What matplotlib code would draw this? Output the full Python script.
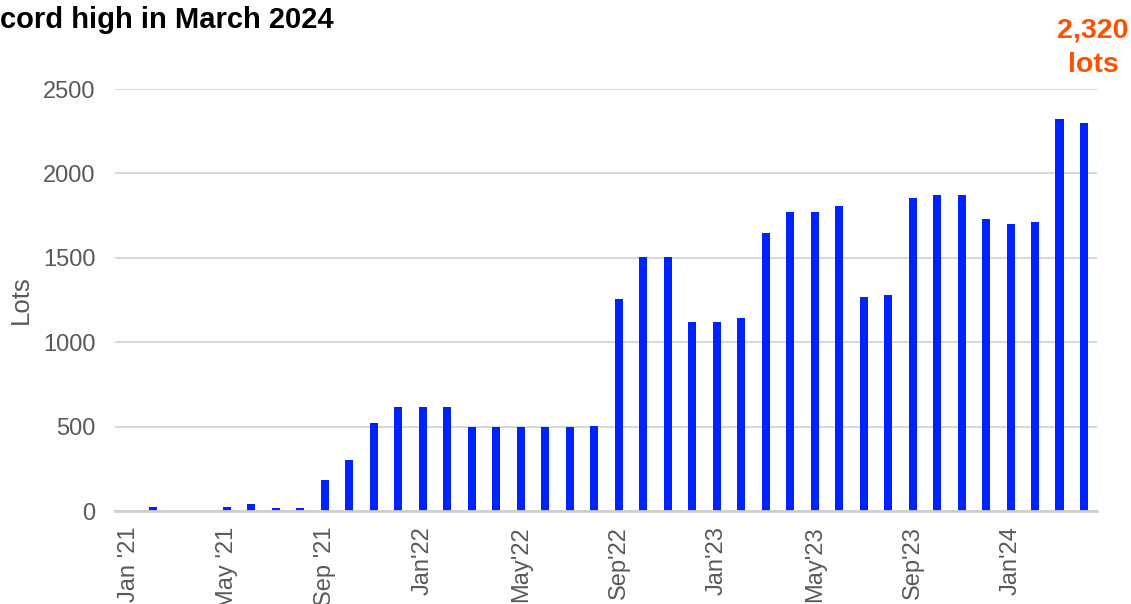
import matplotlib
matplotlib.use("Agg")
from matplotlib import pyplot as plt

plt.rcParams['font.family'] = ['Liberation Sans', 'DejaVu Sans']

# monthly lots, Jan '21 .. Apr '24
months = ["Jan '21", "Feb '21", "Mar '21", "Apr '21", "May '21", "Jun '21", "Jul '21", "Aug '21",
          "Sep '21", "Oct '21", "Nov '21", "Dec '21",
          "Jan'22", "Feb'22", "Mar'22", "Apr'22", "May'22", "Jun'22", "Jul'22", "Aug'22",
          "Sep'22", "Oct'22", "Nov'22", "Dec'22",
          "Jan'23", "Feb'23", "Mar'23", "Apr'23", "May'23", "Jun'23", "Jul'23", "Aug'23",
          "Sep'23", "Oct'23", "Nov'23", "Dec'23",
          "Jan'24", "Feb'24", "Mar'24", "Apr'24"]
lots = [0, 25, 0, 0, 22, 40, 20, 20,
        185, 305, 520, 615,
        615, 615, 500, 500, 500, 500, 500, 505,
        1255, 1505, 1505, 1120,
        1120, 1145, 1645, 1770, 1770, 1805, 1265, 1280,
        1855, 1875, 1872, 1732,
        1702, 1715, 2320, 2298]
peak = 2320

blue = '#0022FF'
grey = '#595959'

fig = plt.figure(figsize=(11.31, 6.04), dpi=100)
ax = fig.add_axes([115 / 1131, 1 - 511 / 604, (1097 - 115) / 1131, (511 - 89) / 604])

xs = list(range(len(months)))
ax.bar(xs, lots, width=0.33, color=blue, zorder=3)

ax.set_xlim(-0.57, 39.53)
ax.set_ylim(0, 2500)
ax.set_yticks([0, 500, 1000, 1500, 2000, 2500])
ax.yaxis.grid(True, color='#d9d9d9', linewidth=1.5, zorder=0)
ax.axhline(0, color='#cfcfcf', linewidth=2, zorder=4, clip_on=False)

# label every 4th month
ax.set_xticks(xs[::4])
ax.set_xticklabels(months[::4], rotation=90, va='top', ha='center')
ax.tick_params(axis='both', length=0, labelsize=17, labelcolor=grey)
ax.tick_params(axis='x', pad=11)
ax.tick_params(axis='y', pad=14)

for s in ax.spines.values():
    s.set_visible(False)

ax.set_ylabel("Lots", fontsize=18.5, color=grey)
ax.yaxis.set_label_coords(-0.084, 0.5)

fig.text(0, 1 - 28 / 604, "cord high in March 2024", fontsize=21, fontweight='bold',
         color='black', ha='left', va='baseline')
fig.text(1093 / 1131, 1 - 37 / 604, f"{peak:,}", fontsize=20.5, fontweight='bold',
         color='#FF5000', ha='center', va='baseline')
fig.text(1093 / 1131, 1 - 72 / 604, "lots", fontsize=20.5, fontweight='bold',
         color='#FF5000', ha='center', va='baseline')

fig.savefig("out.png", dpi=100)
